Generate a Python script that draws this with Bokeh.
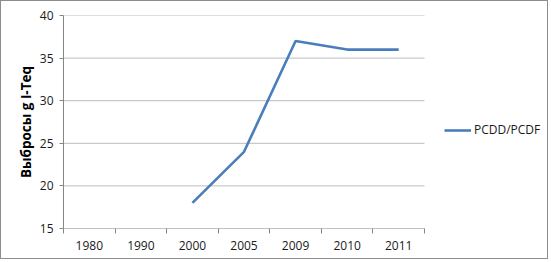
from bokeh.plotting import figure
from bokeh.models import Range1d, FixedTicker, Legend, LegendItem
from bokeh.embed import file_html
from bokeh.resources import INLINE
import numpy as np

years = ["1980", "1990", "2000", "2005", "2009", "2010", "2011"]
pcdd_pcdf = [np.nan, np.nan, 18, 24, 37, 36, 36]
y_ticks = [15, 20, 25, 30, 35, 40]
series_name = "PCDD/PCDF"
y_label = "Выбросы g I-Teq"

FONT = "Open Sans"
n = len(years)
xs = [i + 0.5 for i in range(n)]

W, H = 548, 259
LEFT, TOP, BOTTOM = 62, 14, 32
PLOT_W = 361  # pixel width of the category area
x_end = n * (W - LEFT) / PLOT_W  # frame extends right so the legend is not clipped

p = figure(width=W, height=H, output_backend="svg", toolbar_location=None,
           x_range=Range1d(0, x_end), y_range=Range1d(15, 40),
           min_border_left=LEFT, min_border_right=0, min_border_top=TOP, min_border_bottom=BOTTOM)
p.styles = {"border": "1px solid #8c8c8c"}
p.outline_line_color = None
p.background_fill_color = "white"
p.border_fill_color = "white"

# horizontal gridlines limited to the category area
grid_y = y_ticks[1:]
p.segment(x0=[0] * len(grid_y), x1=[n] * len(grid_y), y0=grid_y, y1=grid_y,
          line_color="#bcbcbc", line_width=1)
# x axis line
p.segment(x0=[0], x1=[n], y0=[y_ticks[0]], y1=[y_ticks[0]], line_color="#868686", line_width=1)

r = p.line(xs, pcdd_pcdf, line_color="#4a7ebb", line_width=2.6)

# x axis
p.xaxis.ticker = FixedTicker(ticks=xs, minor_ticks=list(range(n + 1)))
p.xaxis.major_label_overrides = {x: y for x, y in zip(xs, years)}
p.xaxis.major_tick_out = 0
p.xaxis.major_tick_in = 0
p.xaxis.minor_tick_out = 5
p.xaxis.minor_tick_in = 0
p.xaxis.minor_tick_line_color = "#868686"
p.xaxis.axis_line_color = None
p.xaxis.major_label_standoff = 7
p.xaxis.major_label_text_font = FONT
p.xaxis.major_label_text_font_size = "12px"
p.xaxis.major_label_text_color = "#1a1a1a"

# y axis
p.yaxis.ticker = FixedTicker(ticks=y_ticks)
p.yaxis.major_tick_out = 4
p.yaxis.major_tick_in = 0
p.yaxis.minor_tick_line_color = None
p.yaxis.major_tick_line_color = "#868686"
p.yaxis.axis_line_color = "#868686"
p.yaxis.major_label_standoff = 6
p.yaxis.major_label_text_font = FONT
p.yaxis.major_label_text_font_size = "12px"
p.yaxis.major_label_text_color = "#1a1a1a"
p.yaxis.axis_label = y_label
p.yaxis.axis_label_text_font = FONT
p.yaxis.axis_label_text_font_size = "13.5px"
p.yaxis.axis_label_text_font_style = "bold"
p.yaxis.axis_label_text_color = "#000000"
p.yaxis.axis_label_standoff = 2

p.xgrid.grid_line_color = None
p.ygrid.grid_line_color = None

legend = Legend(items=[LegendItem(label=series_name, renderers=[r])],
                location=(381, 90), padding=0, margin=0,
                border_line_color=None, background_fill_alpha=0,
                glyph_width=27, glyph_height=12, label_standoff=3,
                label_text_font=FONT, label_text_font_size="12px",
                label_text_color="#1a1a1a")
p.add_layout(legend, "center")

open("out.html", "w").write(file_html(p, INLINE))
